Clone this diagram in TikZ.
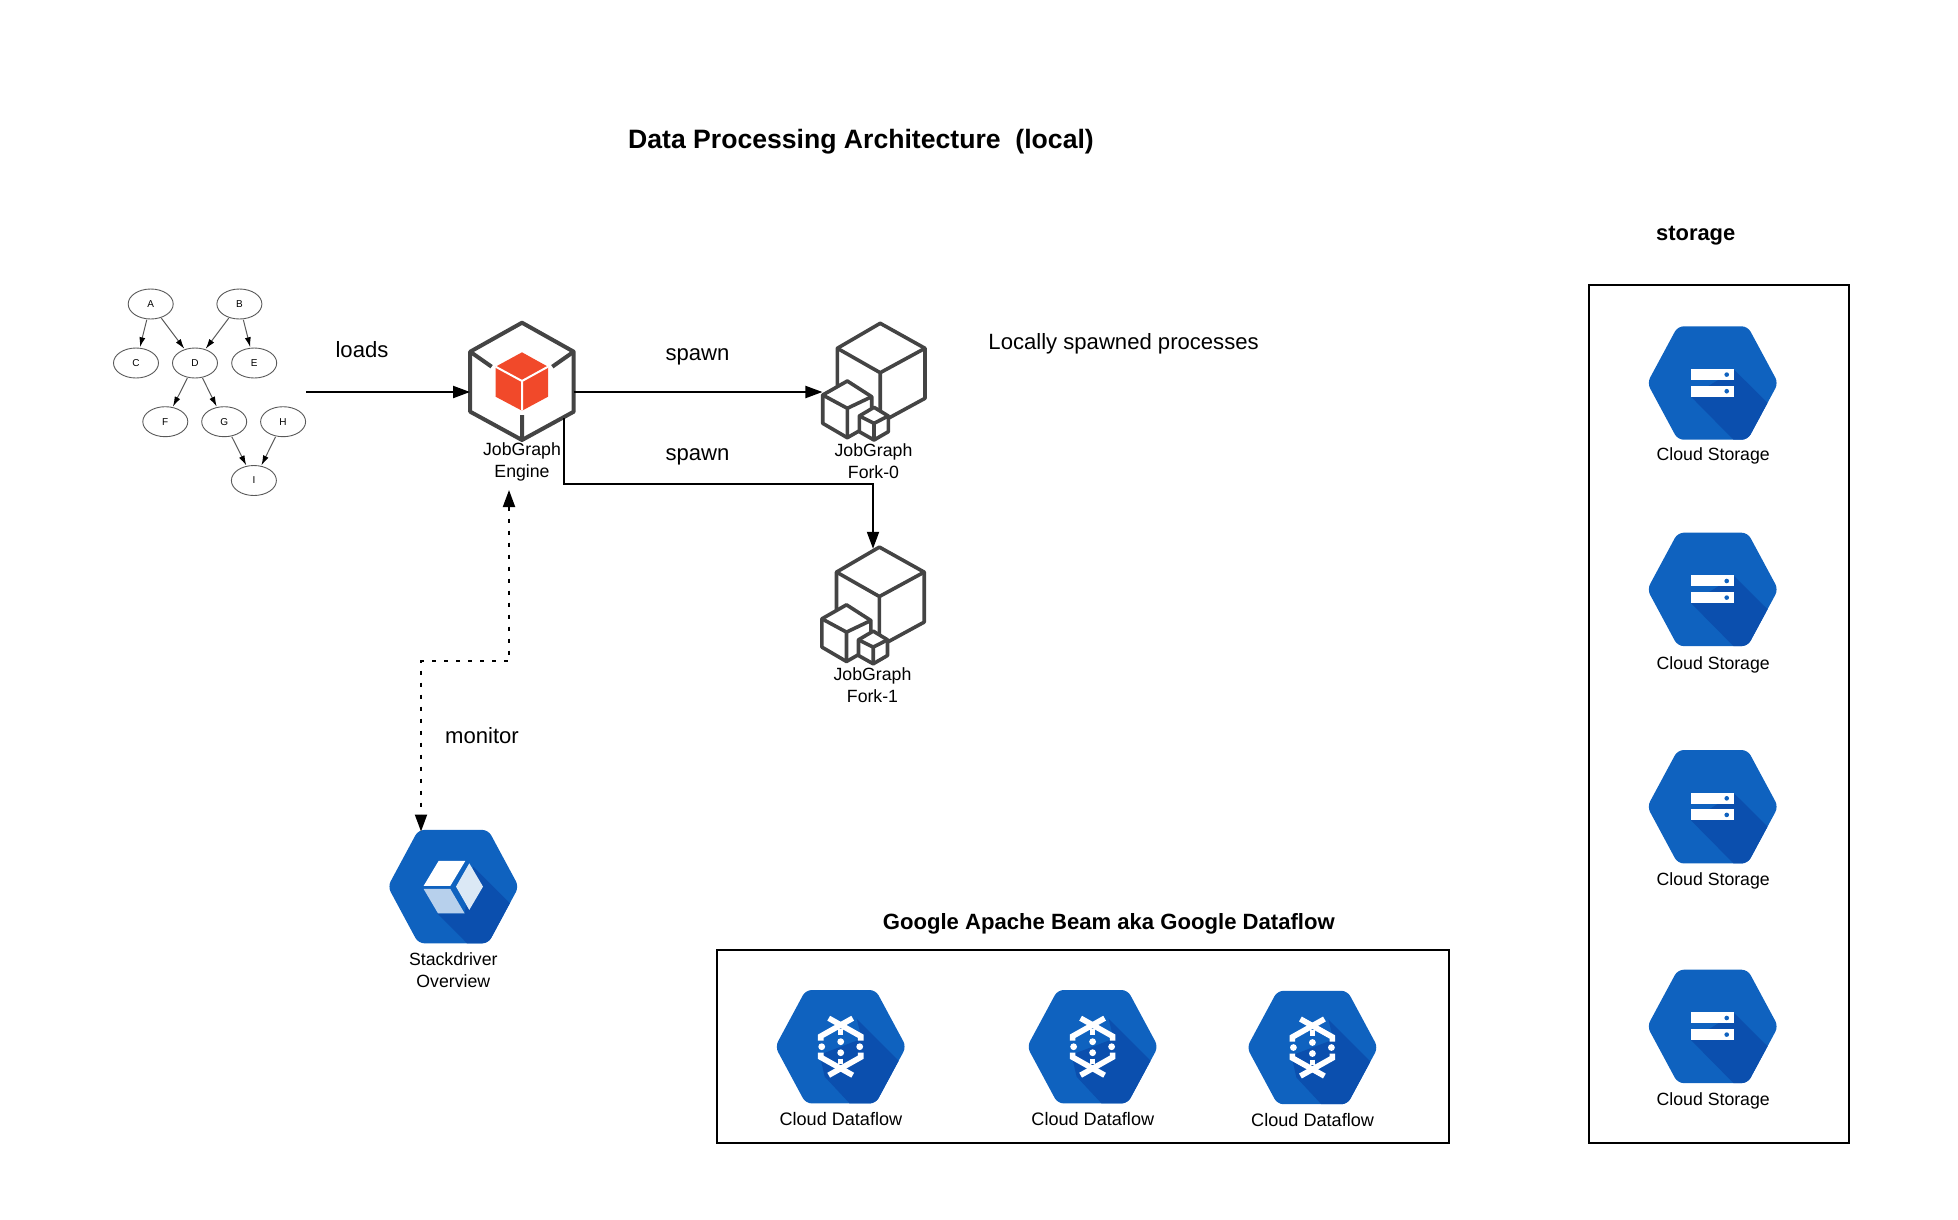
\documentclass[tikz,border=0pt]{standalone}
\usepackage{fontspec}
\setmainfont{Liberation Sans}
\usetikzlibrary{shapes.geometric,arrows.meta}
\definecolor{gcpblue}{HTML}{0F62BF}
\definecolor{gcpshade}{HTML}{0B4FAE}
\definecolor{cubegray}{HTML}{444444}
\definecolor{cubered}{HTML}{F1492A}
\newcommand{\hexbody}[1]{%
  \fill[gcpblue, rounded corners=6] (-65.5,0) -- (-35,-56.7) -- (35,-56.7) -- (65.5,0) -- (35,56.7) -- (-35,56.7) -- cycle;
  \begin{scope}
    \clip[rounded corners=6] (-65.5,0) -- (-35,-56.7) -- (35,-56.7) -- (65.5,0) -- (35,56.7) -- (-35,56.7) -- cycle;
    \fill[gcpshade] #1 -- cycle;
  \end{scope}}
\tikzset{
  every node/.style={font=\fontsize{17.7}{22}\selectfont, text=black, align=center, inner sep=0},
  dagnode/.style={draw=black!65, ellipse, minimum width=45, minimum height=30, line width=0.9, font=\fontsize{10}{12}\selectfont},
  dagedge/.style={draw=black!65, line width=1, -{Latex[length=10,width=6,black]}, shorten >=0.5, shorten <=0.5},
  iconbox/.style={minimum width=#1, minimum height=113},
  bigtext/.style={font=\fontsize{22.1}{26}\selectfont},
  headtext/.style={font=\bfseries\fontsize{22.1}{26}\selectfont},
  flowtext/.style={font=\fontsize{18.1}{22}\selectfont},
  flow/.style={line width=2, -{Triangle[length=17,width=12]}},
  frame/.style={draw=black, line width=2},
  storageicon/.pic={
    \hexbody{(21.7,-13) -- (60,25) -- (60,60) -- (24,60) -- (-21.7,13.7)}
    \fill[white] (-21.7,-14) rectangle (21.7,-3);
    \fill[white] (-21.7,2.7) rectangle (21.7,13.7);
    \fill[gcpblue] (14,-8.4) circle (2.3);
    \fill[gcpblue] (14,8.2) circle (2.3);
  },
  flowicon/.pic={
    \hexbody{(16,-28) -- (60,16) -- (60,60) -- (12,60) -- (-16,30) -- (-21,8) -- (21,-8)}
    \draw[white, line width=5.6] (-12,-28.5) -- (20,-10.5) -- (20,-6);
    \draw[white, line width=5.6] (12,-28.5) -- (-20,-10.5) -- (-20,-6);
    \draw[white, line width=5.6] (-12,28.5) -- (20,10.5) -- (20,6);
    \draw[white, line width=5.6] (12,28.5) -- (-20,10.5) -- (-20,6);
    \fill[white] (-19,0) circle (3.4) (19,0) circle (3.4) (0,-5) circle (3.4) (0,6) circle (3.4);
    \draw[white, line width=5] (0,-18) -- (0,-12) (0,12) -- (0,17);
  },
  stackicon/.pic={
    \hexbody{(20,-20) -- (60,20) -- (60,60) -- (17,60) -- (-16,26.7) -- (11.3,26.7)}
    \fill[white] (-14.7,-25.7) -- (12,-25.7) -- (-3,-0.7) -- (-29.7,-0.7) -- cycle;
    \fill[gcpblue!15] (16,-23.3) -- (29.7,0) -- (16,23.3) -- (2.7,0) -- cycle;
    \fill[gcpblue!30] (-29.7,2.3) -- (-3,2.3) -- (11.3,26.7) -- (-15.3,26.7) -- cycle;
  },
  forkicon/.pic={
    % big cube
    \draw[cubegray, line width=3.6, line join=round] (-36.5,4.5) -- (-36.5,-33.2) -- (6.4,-58.2) -- (51.2,-33.2) -- (51.2,16.8) -- (14.5,36.8);
    \draw[cubegray, line width=3.6, line join=round] (-36.5,-33.2) -- (6.4,-8.8) -- (51.2,-33.2) (6.4,-8.8) -- (6.4,32);
    % left cube
    \draw[cubegray, fill=white, line width=3.6, line join=round] (-51.1,13.5) -- (-26.5,-0.5) -- (-2.1,15.2) -- (-2.1,40) -- (-14.8,49.5) -- (-26.5,56.2) -- (-51.1,41.8) -- cycle;
    \draw[cubegray, line width=3.6, line join=round] (-51.1,13.5) -- (-26.5,26.8) -- (-2.1,15.2) (-26.5,26.8) -- (-26.5,56.2);
    % small cube
    \draw[cubegray, fill=white, line width=3.6, line join=round] (-14.5,34.5) -- (0.2,25.8) -- (14.5,34.5) -- (14.5,50.2) -- (0.2,58.5) -- (-14.5,50.2) -- cycle;
    \draw[cubegray, line width=3.6, line join=round] (-14.5,34.5) -- (0.2,41.8) -- (14.5,34.5) (0.2,41.8) -- (0.2,58.5);
  }
}
\begin{document}
\begin{tikzpicture}[x=1pt,y=-1pt]
  \useasboundingbox (0,0) rectangle (1958,1219);

  \node[font=\bfseries\fontsize{26.6}{32}\selectfont] (title) at (861,142) {Data Processing Architecture\ \ (local)};
  \node[font=\bfseries\fontsize{21.9}{26}\selectfont] (storagehead) at (1695.7,236) {storage};
  \node[headtext] (beamhead) at (1108.8,924) {Google Apache Beam aka Google Dataflow};

  % job graph
  \node[dagnode] (a) at (150.7,304) {A};
  \node[dagnode] (b) at (239.4,304) {B};
  \node[dagnode] (c) at (136,363) {C};
  \node[dagnode] (d) at (195,363) {D};
  \node[dagnode] (e) at (254.2,363) {E};
  \node[dagnode] (f) at (165.3,421.7) {F};
  \node[dagnode] (g) at (224.2,421.7) {G};
  \node[dagnode] (h) at (283.1,421.7) {H};
  \node[dagnode] (i) at (253.9,480.5) {I};
  \draw[dagedge] (a) -- (c);
  \draw[dagedge] (a) -- (d);
  \draw[dagedge] (b) -- (d);
  \draw[dagedge] (b) -- (e);
  \draw[dagedge] (d) -- (f);
  \draw[dagedge] (d) -- (g);
  \draw[dagedge] (g) -- (i);
  \draw[dagedge] (h) -- (i);

  % engine
  \node[minimum width=103.5, minimum height=117.3] (engine) at (522,381.3) {};
  \draw[cubegray, line width=4, line join=round] (522,322.7) -- (573.7,351.7) -- (573.7,411.7) -- (522,440) -- (470.2,411.7) -- (470.2,351.7) -- cycle;
  \draw[cubegray, line width=4] (470.2,351.7) -- (491.6,366.7) (573.7,351.7) -- (552.3,366.7) (522,440) -- (522,415);
  \fill[cubered] (522,352.3) -- (548,366.7) -- (548,396.7) -- (522,410.7) -- (495.6,396.7) -- (495.6,366.7) -- cycle;
  \draw[white, line width=2] (495.6,366.7) -- (522,381) -- (548,366.7) (522,381) -- (522,410.7);
  \node (enginelabel) at (522,462) {JobGraph\\Engine};

  % forks
  \node[minimum width=102.3, minimum height=116.7] (fork0) at (873.8,381.5) {};
  \pic at (fork0) {forkicon};
  \node (fork0label) at (873.5,461) {JobGraph\\Fork-0};
  \node[minimum width=102.3, minimum height=116.7] (fork1) at (873,605.3) {};
  \pic at (fork1) {forkicon};
  \node (fork1label) at (872.5,685) {JobGraph\\Fork-1};

  \coordinate (loadstart) at (306,392);
  \coordinate (forkdrop) at (564,418.3);
  \draw[flow] (loadstart) -- (loadstart -| engine.west);
  \draw[flow] (loadstart -| engine.east) -- (loadstart -| fork0.west);
  \draw[flow, shorten >=-2] (forkdrop) -- (564,484) -| (fork1.north);

  \node[bigtext] (loadslabel) at (362,349.3) {loads};
  \node[bigtext] (spawnup) at (697.5,356.5) {spawn};
  \node[bigtext] (spawndown) at (697.5,457) {spawn};
  \node[bigtext] (localnote) at (1123.6,344) {Locally spawned processes};
  \node[bigtext] (monitorlabel) at (482,736) {monitor};

  % monitor
  \node[iconbox=136] (stack) at (453.3,886.6) {};
  \pic at (stack) {stackicon};
  \node (stacklabel) at (453.3,970) {Stackdriver\\Overview};
  \coordinate (monitorup) at (509,490);
  \coordinate (monitorbend) at (421,661);
  \coordinate (monitordown) at (421,831.5);
  \draw[line width=2, dash pattern=on 4 off 8, {Triangle[length=17,width=12]}-{Triangle[length=17,width=12]}] (monitorup) |- (monitorbend) -- (monitordown);

  % dataflow
  \node[frame, minimum width=732.5, minimum height=192.3] (beambox) at (1083,1046.4) {};
  \node[iconbox=136] (flow0) at (840.7,1046.7) {};
  \node[iconbox=136] (flow1) at (1092.6,1046.7) {};
  \node[iconbox=136] (flow2) at (1312.4,1047.5) {};
  \pic at (flow0) {flowicon};
  \pic at (flow1) {flowicon};
  \pic at (flow2) {flowicon};
  \node[flowtext] (flow0label) at (840.9,1119.5) {Cloud Dataflow};
  \node[flowtext] (flow1label) at (1092.8,1119.5) {Cloud Dataflow};
  \node[flowtext] (flow2label) at (1312.6,1120.5) {Cloud Dataflow};

  % storage
  \node[frame, minimum width=260.5, minimum height=858] (storagebox) at (1719,713.6) {};
  \foreach \name/\ypos/\ytext in {0/383/456, 1/589.4/664.5, 2/806.7/880.5, 3/1026.4/1100.5} {
    \node[iconbox=136] (store\name) at (1712.7,\ypos) {};
    \pic at (store\name) {storageicon};
    \node (store\name label) at (1713.2,\ytext) {Cloud Storage};
  }
\end{tikzpicture}
\end{document}
